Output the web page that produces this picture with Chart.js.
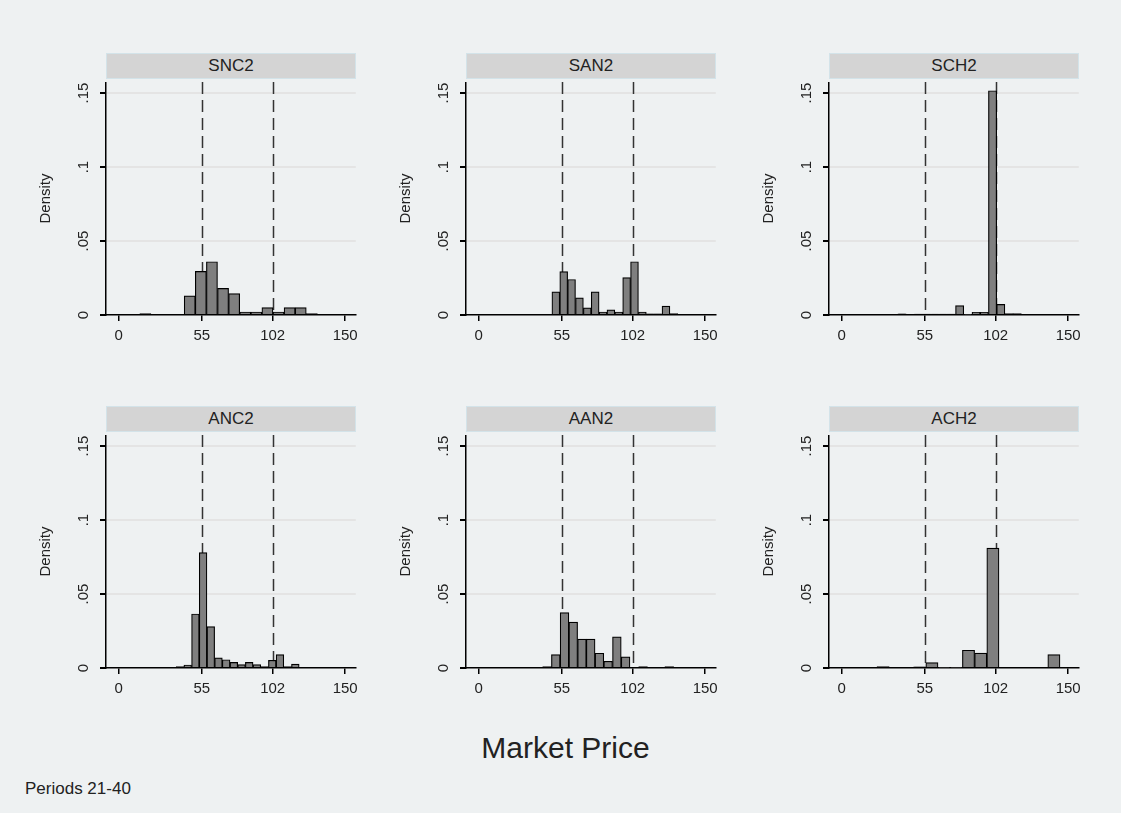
<!DOCTYPE html>
<html>
<head>
<meta charset="utf-8">
<script src="https://cdn.jsdelivr.net/npm/chart.js@4.4.1/dist/chart.umd.min.js"></script>
<style>
body { margin: 0; background: #eef1f2; width: 1121px; height: 813px; position: relative; overflow: hidden;
       font-family: "Liberation Sans", Arial, sans-serif; }
.strip { position: absolute; background: #d4d4d4; border: 1px solid #d3e3e9; box-sizing: border-box;
         text-align: center; font-size: 17px; color: #222; line-height: 24px; }
.cv { position: absolute; }
#xtitle { position: absolute; left: 0; width: 1131px; top: 731px; text-align: center; font-size: 30px; color: #222; }
#note { position: absolute; left: 25px; top: 779px; font-size: 17px; color: #222; }
</style>
</head>
<body>
<div id="xtitle">Market Price</div>
<div id="note">Periods 21-40</div>
<script>
var panelNames = ['SNC2', 'SAN2', 'SCH2', 'ANC2', 'AAN2', 'ACH2'];

// histogram bins: first edge and width per panel
var binStart = [14, 48.5, 37.25, 38.1, 42.4, 23.4];
var binWidth = [7.35, 5.21, 5.45, 5.09, 5.78, 8.08];

var densSNC2 = [0.001, 0, 0, 0, 0.013, 0.0295, 0.036, 0.018, 0.0145, 0.002, 0.002, 0.005, 0.002, 0.005, 0.005, 0.001];
var densSAN2 = [0.0157, 0.0293, 0.024, 0.0116, 0.0048, 0.0157, 0.002, 0.0035, 0.002, 0.0253, 0.036, 0.002, 0.0008, 0.0008, 0.006, 0.001];
var densSCH2 = [0.0008, 0, 0.0007, 0.0007, 0.0007, 0.0007, 0.0007, 0.0063, 0.0005, 0.0018, 0.0018, 0.1516, 0.0072, 0.001, 0.001];
var densANC2 = [0.001, 0.002, 0.0365, 0.078, 0.028, 0.0068, 0.0056, 0.0038, 0.0023, 0.0038, 0.0023, 0.001, 0.0052, 0.009, 0.001, 0.0027];
var densAAN2 = [0.001, 0.009, 0.0375, 0.031, 0.0195, 0.0195, 0.010, 0.0045, 0.021, 0.0075, 0, 0.001, 0, 0, 0.001];
var densACH2 = [0.001, 0, 0, 0.0008, 0.0036, 0.0005, 0.0005, 0.012, 0.0101, 0.081, 0, 0, 0, 0, 0.009];
var densities = [densSNC2, densSAN2, densSCH2, densANC2, densAAN2, densACH2];

var xTickValues = [0, 55, 102, 150];
var yTickValues = [0, 0.05, 0.1, 0.15];
var yTickLabels = ['0', '.05', '.1', '.15'];
var refLines = [55, 102];

var colLeft = [106, 466, 829];
var rowTop = [82, 435];
var plotW = 250, plotH = 233;
var yAxisW = 72, xAxisH = 45, padR = 8;
var fontFam = '"Liberation Sans", Arial, sans-serif';

var panelDeco = {
    id: 'panelDeco',
    beforeDatasetsDraw: function (chart) {
        var ctx = chart.ctx, a = chart.chartArea, xs = chart.scales.x;
        ctx.save();
        ctx.strokeStyle = '#333';
        ctx.lineWidth = 1.5;
        ctx.setLineDash([12, 6]);
        refLines.forEach(function (v) {
            var px = Math.round(xs.getPixelForValue(v)) + 0.5;
            ctx.beginPath();
            ctx.moveTo(px, a.top);
            ctx.lineTo(px, a.bottom);
            ctx.stroke();
        });
        ctx.restore();
    },
    afterDraw: function (chart) {
        var ctx = chart.ctx, a = chart.chartArea, ys = chart.scales.y;
        ctx.save();
        ctx.fillStyle = '#222';
        ctx.textAlign = 'center';
        ctx.textBaseline = 'middle';
        ctx.font = '15px ' + fontFam;
        yTickValues.forEach(function (v, i) {
            ctx.save();
            ctx.translate(a.left - 22, ys.getPixelForValue(v));
            ctx.rotate(-Math.PI / 2);
            ctx.fillText(yTickLabels[i], 0, 0);
            ctx.restore();
        });
        ctx.translate(a.left - 60, (a.top + a.bottom) / 2);
        ctx.rotate(-Math.PI / 2);
        ctx.fillText('Density', 0, 0);
        ctx.restore();
    }
};

panelNames.forEach(function (name, i) {
    var col = i % 3, row = Math.floor(i / 3);
    var left = colLeft[col], top = rowTop[row];

    var strip = document.createElement('div');
    strip.className = 'strip';
    strip.style.left = left + 'px';
    strip.style.top = (top - 29) + 'px';
    strip.style.width = plotW + 'px';
    strip.style.height = '26px';
    strip.textContent = name;
    document.body.appendChild(strip);

    var cv = document.createElement('canvas');
    cv.className = 'cv';
    cv.width = plotW + yAxisW + padR;
    cv.height = plotH + xAxisH;
    cv.style.left = (left - yAxisW) + 'px';
    cv.style.top = top + 'px';
    document.body.appendChild(cv);

    var pts = densities[i].map(function (d, k) {
        return { x: binStart[i] + (k + 0.5) * binWidth[i], y: d };
    });

    new Chart(cv.getContext('2d'), {
        type: 'bar',
        data: {
            datasets: [{
                data: pts,
                backgroundColor: '#7f7f7f',
                borderColor: '#000',
                borderWidth: 1.2,
                barPercentage: 1,
                categoryPercentage: 1
            }]
        },
        options: {
            responsive: false,
            animation: false,
            layout: { padding: { right: padR, top: 0, bottom: 0, left: 0 } },
            plugins: { legend: { display: false }, tooltip: { enabled: false } },
            scales: {
                x: {
                    type: 'linear',
                    min: -8.4,
                    max: 157,
                    offset: false,
                    afterBuildTicks: function (s) { s.ticks = xTickValues.map(function (v) { return { value: v }; }); },
                    afterFit: function (s) { s.height = xAxisH; },
                    grid: { offset: false, drawOnChartArea: false, tickLength: 6, tickColor: '#000', lineWidth: 1.5 },
                    border: { color: '#000', width: 1.5 },
                    ticks: { font: { size: 15, family: fontFam }, color: '#222', padding: 6, maxRotation: 0, autoSkip: false }
                },
                y: {
                    min: 0,
                    max: 0.1575,
                    afterBuildTicks: function (s) { s.ticks = yTickValues.map(function (v) { return { value: v }; }); },
                    afterFit: function (s) { s.width = yAxisW; },
                    grid: {
                        color: function (c) { return c.tick && c.tick.value === 0 ? 'rgba(0,0,0,0)' : '#e4e4e4'; },
                        lineWidth: 2,
                        tickLength: 6,
                        tickColor: '#000'
                    },
                    border: { color: '#000', width: 1.5 },
                    ticks: { display: false }
                }
            }
        },
        plugins: [panelDeco]
    });
});
</script>
</body>
</html>
